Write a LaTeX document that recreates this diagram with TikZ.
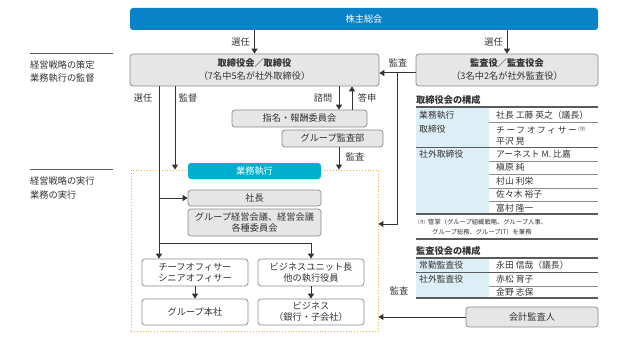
\documentclass[tikz,border=0pt]{standalone}
\usepackage{fontspec}
\setmainfont{Noto Sans CJK JP}
\usetikzlibrary{arrows.meta}
\definecolor{shblue}{HTML}{0A82C8}
\definecolor{gyocyan}{HTML}{00B0CE}
\definecolor{boxfill}{HTML}{E6E6E6}
\definecolor{boxline}{HTML}{8A8A8A}
\definecolor{tblue}{HTML}{DDEFF6}
\definecolor{dotorange}{HTML}{F5B03A}
\definecolor{ink}{HTML}{333333}
\definecolor{rulec}{HTML}{5A5A5A}
\newcommand{\chumark}{{\fontsize{4.2}{5}\selectfont (注)}}
\tikzset{
 base/.style={inner sep=0pt, align=center, text=ink, font=\fontsize{9.2}{12}\selectfont},
 gbox/.style={base, draw=boxline, fill=boxfill, rounded corners=3pt, line width=0.7pt},
 wbox/.style={base, draw=boxline, fill=white, rounded corners=3pt, line width=0.7pt},
 bluebox/.style={base, fill=shblue, text=white, rounded corners=3pt},
 cyanbox/.style={base, fill=gyocyan, text=white, rounded corners=3pt},
 lbl/.style={base},
 ttxt/.style={inner sep=0pt, anchor=west, text=ink, font=\fontsize{8.8}{11}\selectfont},
 ltxt/.style={inner sep=0pt, anchor=west, text=ink, font=\fontsize{9.2}{11}\selectfont},
 arr/.style={draw=ink, line width=1pt, -{Triangle[length=5pt,width=6pt]}},
 conn/.style={draw=ink, line width=1pt},
 dotbox/.style={draw=dotorange, dotted, line width=0.9pt, inner sep=0pt},
 trule/.style={draw=rulec, line width=1.1pt},
 tthin/.style={draw=rulec!70, line width=0.6pt},
}
\begin{document}
\begin{tikzpicture}[x=1pt,y=-1pt]
\useasboundingbox (0,0) rectangle (619,345);

% left side labels
\draw[draw=rulec, line width=0.8pt] (30,53) -- (113,53);
\node[ltxt] (l1) at (30,65) {経営戦略の策定};
\node[ltxt] (l2) at (30,78) {業務執行の監督};
\draw[draw=rulec, line width=0.8pt] (30,169) -- (113,169);
\node[ltxt] (l3) at (30,181) {経営戦略の実行};
\node[ltxt] (l4) at (30,195) {業務の実行};

% dotted execution area
\node[dotbox, minimum width=247pt, minimum height=161pt] (exec) at (254.5,250.5) {};

% boxes
\node[bluebox, minimum width=468pt, minimum height=22pt] (sh) at (364,19) {株主総会};
\node[gbox, minimum width=249pt, minimum height=32pt] (bod) at (254.5,70)
  {{\bfseries 取締役会／取締役}\\[1pt]（7名中5名が社外取締役）};
\node[gbox, minimum width=182pt, minimum height=32pt] (kansa) at (507,70)
  {{\bfseries 監査役／監査役会}\\[1pt]（3名中2名が社外監査役）};
\node[gbox, minimum width=135pt, minimum height=17pt] (shimei) at (299.5,118.5) {指名・報酬委員会};
\node[gbox, minimum width=101pt, minimum height=17pt] (gaudit) at (332.5,138.5) {グループ監査部};
\node[cyanbox, minimum width=133pt, minimum height=16pt] (gyomu) at (254.5,171) {業務執行};
\node[gbox, minimum width=133pt, minimum height=16pt] (pres) at (254.5,198) {社長};
\node[gbox, minimum width=133pt, minimum height=27pt] (gmc) at (254.5,222.5)
  {グループ経営会議、経営会議\\[-1pt]各種委員会};
\node[wbox, minimum width=106pt, minimum height=27pt] (cof) at (195,272.5)
  {チーフオフィサー\\[-1pt]シニアオフィサー};
\node[wbox, minimum width=106pt, minimum height=27pt] (bu) at (311,272.5)
  {ビジネスユニット長\\[-1pt]他の執行役員};
\node[wbox, minimum width=106pt, minimum height=26pt] (ghq) at (195,312) {グループ本社};
\node[wbox, minimum width=106pt, minimum height=26pt] (biz) at (311,312)
  {ビジネス\\[-1pt]（銀行・子会社）};
\node[gbox, minimum width=132pt, minimum height=20pt] (aud) at (532,317) {会計監査人};

% helper coordinates
\coordinate (selx) at (159,0);
\coordinate (supx) at (175,0);
\coordinate (sx) at (339,0);
\coordinate (tx) at (352,0);
\coordinate (k1) at (397,73);
\coordinate (k2) at (397,224);
\coordinate (br) at (159,243);

% connectors
\draw[arr] (sh.south -| bod.north) -- (bod.north);
\draw[arr] (sh.south -| kansa.north) -- (kansa.north);
\draw[arr] ([yshift=-3pt]kansa.west) -- ([yshift=-3pt]bod.east);
\draw[arr] (k1) -- (k2) -- (k2 -| exec.east);
\draw[arr] (aud.west) -- (aud.west -| exec.east);
\draw[arr] (bod.south -| selx) -- (cof.north -| selx);
\draw[arr] (selx |- pres) -- (pres.west);
\draw[arr] (br) -| (bu.north);
\draw[arr] (bod.south -| supx) -- (exec.north -| supx);
\draw[arr] (bod.south -| sx) -- (shimei.north -| sx);
\draw[arr] (shimei.north -| tx) -- (bod.south -| tx);
\draw[arr] (gaudit.south -| sx) -- (exec.north -| sx);
\draw[arr] (cof.south) -- (ghq.north);
\draw[arr] (bu.south) -- (biz.north);

% connector labels
\node[lbl, anchor=east] (t1) at (250,42) {選任};
\node[lbl, anchor=east] (t2) at (503,42) {選任};
\node[lbl] (t3) at (398,63) {監査};
\node[lbl] (t4) at (143,98) {選任};
\node[lbl] (t5) at (188,98) {監督};
\node[lbl] (t6) at (323,98) {諮問};
\node[lbl] (t7) at (367,98) {答申};
\node[lbl] (t8) at (355,157) {監査};
\node[lbl] (t9) at (399,291) {監査};

% board composition table
\node[ltxt, font=\fontsize{9.2}{11}\selectfont\bfseries] (h1) at (416,100) {取締役会の構成};
\fill[tblue] (416,107) rectangle (489,214);
\draw[trule] (416,107) -- (598,107);
\draw[tthin] (489,122) -- (598,122);
\draw[trule, line width=0.9pt] (416,147) -- (598,147);
\draw[tthin] (489,161) -- (598,161);
\draw[tthin] (489,174) -- (598,174);
\draw[tthin] (489,188) -- (598,188);
\draw[tthin] (489,201) -- (598,201);
\draw[trule] (416,214) -- (598,214);
\node[ttxt] (a1) at (419,115) {業務執行};
\node[ttxt] (a2) at (419,129) {取締役};
\node[ttxt] (a3) at (419,154) {社外取締役};
\node[ttxt] (b1) at (496,115) {社長 工藤 英之（議長）};
\node[ttxt] (b2) at (496,130) {{\addfontfeatures{LetterSpace=18}チーフオフィサー}\,\raisebox{3pt}{\chumark}};
\node[ttxt] (b3) at (496,141) {平沢 晃};
\node[ttxt] (b4) at (496,154) {アーネスト M. 比嘉};
\node[ttxt] (b5) at (496,167.5) {槇原 純};
\node[ttxt] (b6) at (496,181) {村山 利栄};
\node[ttxt] (b7) at (496,194.5) {佐々木 裕子};
\node[ttxt] (b8) at (496,208) {富村 隆一};

% note
\node[ttxt] (n0) at (418,222) {\chumark};
\node[ttxt, font=\fontsize{6.3}{7}\selectfont] (n1) at (428,222) {管掌（グループ組織戦略、グループ人事、};
\node[ttxt, font=\fontsize{6.3}{7}\selectfont] (n2) at (432,232) {グループ総務、グループIT）を兼務};
\draw[trule] (416,239) -- (598,239);

% audit board composition table
\node[ltxt, font=\fontsize{9.2}{11}\selectfont\bfseries] (h2) at (416,251) {監査役会の構成};
\fill[tblue] (416,258) rectangle (489,298);
\draw[trule] (416,258) -- (598,258);
\draw[trule, line width=0.9pt] (416,272) -- (598,272);
\draw[tthin] (489,286) -- (598,286);
\draw[trule] (416,298) -- (598,298);
\node[ttxt] (c1) at (419,265) {常勤監査役};
\node[ttxt] (c2) at (419,279) {社外監査役};
\node[ttxt] (d1) at (496,265) {永田 信哉（議長）};
\node[ttxt] (d2) at (496,279) {赤松 育子};
\node[ttxt] (d3) at (496,292) {金野 志保};
\end{tikzpicture}
\end{document}
